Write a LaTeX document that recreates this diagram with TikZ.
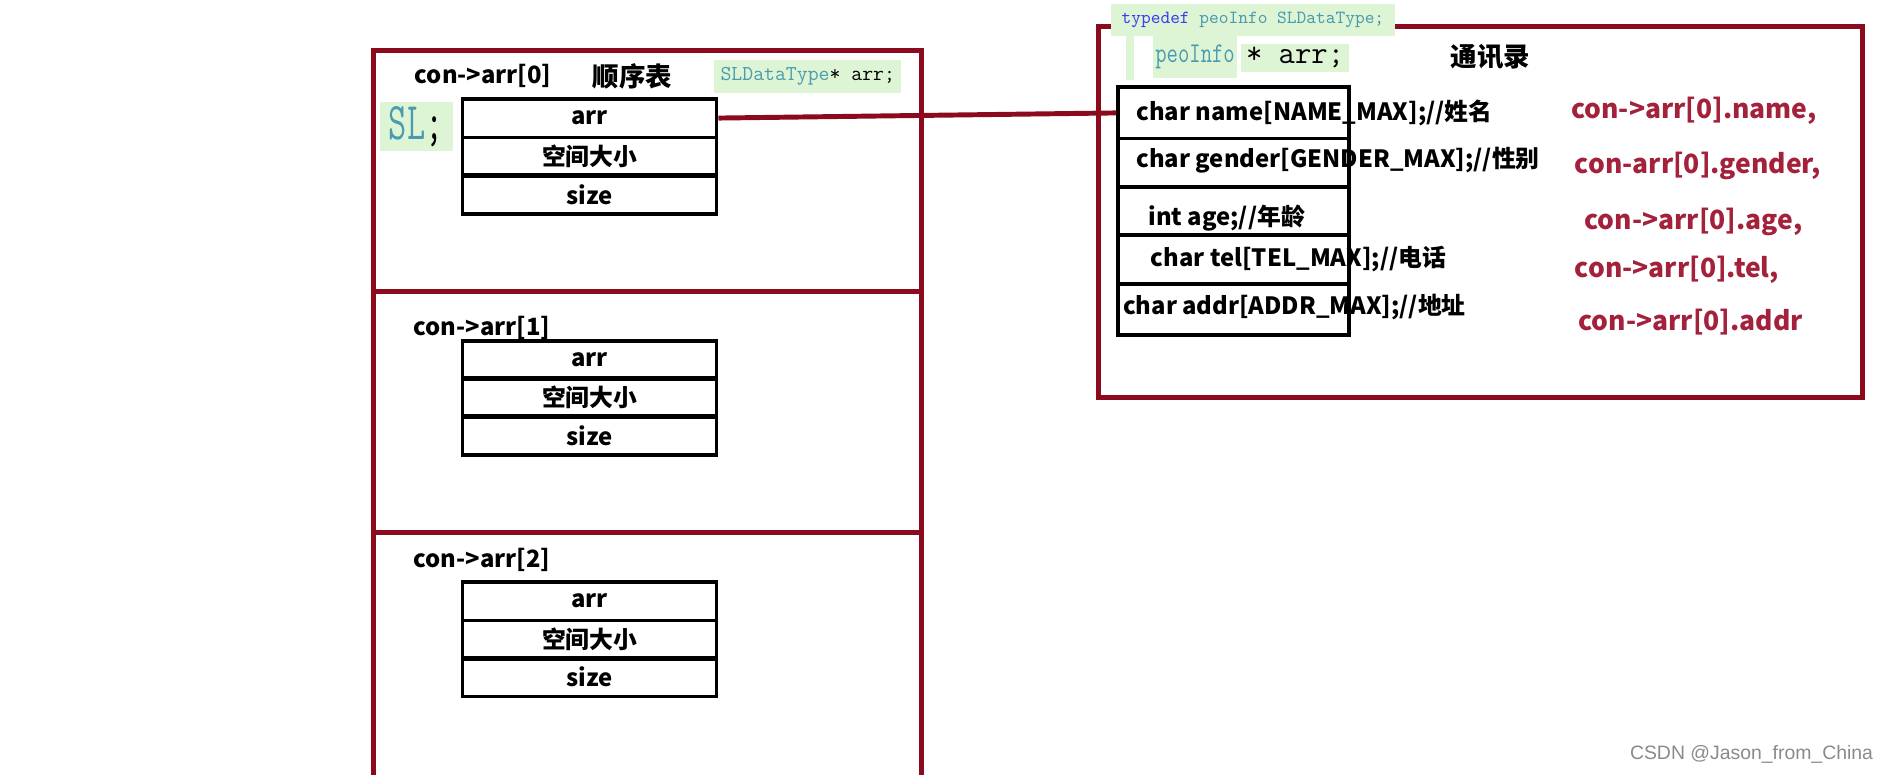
\documentclass[tikz,border=0pt]{standalone}
\usepackage{fontspec}
\setmainfont{Noto Sans CJK SC}
\newfontfamily\wmfont{Liberation Sans}
\usetikzlibrary{calc}
\definecolor{slMarco}{HTML}{8B0A1E}
\definecolor{slRojo}{HTML}{A3213B}
\definecolor{slVerde}{HTML}{DDF4D5}
\definecolor{slTeal}{HTML}{4A9BAE}
\definecolor{slAzul}{HTML}{3B3BF0}
\definecolor{slGris}{HTML}{8A8A8A}

\begin{document}
\begin{tikzpicture}[x=0.24mm, y=-0.24mm,
      frame/.style={draw=slMarco, line width=2.6pt},
      link/.style={draw=slMarco, line width=2.8pt},
      cell/.style={draw, line width=2pt, minimum width=5.06cm, minimum height=0.77cm,
                   inner sep=0pt, font=\fontsize{13.5}{16}\selectfont\bfseries},
      mem/.style={draw, line width=2pt, minimum width=4.6cm, minimum height=#1, inner sep=0pt},
      memtxt/.style={anchor=west, inner sep=0pt, font=\fontsize{13.5}{16}\selectfont\bfseries},
      ref/.style={anchor=west, inner sep=0pt, text=slRojo, font=\fontsize{15}{18}\selectfont\bfseries},
      hl/.style={fill=slVerde, inner sep=0pt},
      tag/.style={inner sep=0pt, font=\fontsize{13.5}{16}\selectfont\bfseries}]
    \useasboundingbox (0,0) rectangle (1568,643);

    % sequence list, three elements
    \draw[frame] (310,660) -- (310,42) -- (765,42) -- (765,660);
    \draw[frame] (310,242) -- (765,242);
    \draw[frame] (310,442) -- (765,442);

    \node[tag] (t0) at (401,63) {con->arr[0]};
    \node[tag, font=\fontsize{15}{18}\selectfont\bfseries] (seq) at (525,63) {顺序表};
    \node[hl, minimum width=3.72cm, minimum height=0.65cm,
          font=\ttfamily\fontsize{12}{14}\selectfont] (sltype) at (670.5,63.5)
          {\textcolor{slTeal}{SLDataType}* arr;};
    \node[hl, minimum width=1.46cm, minimum height=0.96cm,
          font=\ttfamily\fontsize{20}{24}\selectfont] (sl) at (345.5,105)
          {\scalebox{1}[1.5]{\textcolor{slTeal}{SL};}};

    \node[cell] (a0) at (489.5,98)    {arr};
    \node[cell] (s0) at (489.5,130)   {空间大小};
    \node[cell] (z0) at (489.5,161.5) {size};

    \node[tag] (t1) at (400,272) {con->arr[1]};
    \node[cell] (a1) at (489.5,299)   {arr};
    \node[cell] (s1) at (489.5,330)   {空间大小};
    \node[cell] (z1) at (489.5,361.5) {size};

    \node[tag] (t2) at (400,465) {con->arr[2]};
    \node[cell] (a2) at (489.5,499)   {arr};
    \node[cell] (s2) at (489.5,531)   {空间大小};
    \node[cell] (z2) at (489.5,562)   {size};

    % contact book
    \draw[frame] (912,22) rectangle (1546,330);
    \node[hl, minimum width=5.66cm, minimum height=0.65cm,
          font=\ttfamily\fontsize{10.5}{12}\selectfont] (tdef) at (1040,16.5)
          {\textcolor{slAzul}{typedef} \textcolor{slTeal}{peoInfo SLDataType;}};
    \fill[slVerde] (935,30) rectangle (941,66);
    \node[hl, minimum width=1.68cm, minimum height=0.84cm, text=slTeal,
          font=\ttfamily\fontsize{12.5}{14}\selectfont] (pinfo) at (992,47) {\scalebox{1}[1.3]{peoInfo}};
    \node[hl, minimum width=2.16cm, minimum height=0.55cm,
          font=\ttfamily\fontsize{18}{20}\selectfont] (parr) at (1075,48) {* arr;};
    \node[tag, font=\fontsize{15}{18}\selectfont\bfseries] (txl) at (1237,47) {通讯录};

    \node[mem=1.03cm] (mname) at (1024,93.5) {};
    \node[mem=0.96cm] (mgen)  at (1024,135)  {};
    \node[mem=0.96cm] (mage)  at (1024,175)  {};
    \node[mem=0.98cm] (mtel)  at (1024,215.5) {};
    \node[mem=1.01cm] (maddr) at (1024,257)  {};

    \node[memtxt] (tname) at (943,94)  {char name[NAME\_MAX];//姓名};
    \node[memtxt] (tgen)  at (943,133) {char gender[GENDER\_MAX];//性别};
    \node[memtxt] (tage)  at (953,181) {int age;//年龄};
    \node[memtxt] (ttel)  at (955,215) {char tel[TEL\_MAX];//电话};
    \node[memtxt] (taddr) at (932,255) {char addr[ADDR\_MAX];//地址};

    \node[ref] (rname) at (1304,92)  {con->arr[0].name,};
    \node[ref] (rgen)  at (1307,138) {con-arr[0].gender,};
    \node[ref] (rage)  at (1315,184) {con->arr[0].age,};
    \node[ref] (rtel)  at (1307,224) {con->arr[0].tel,};
    \node[ref] (raddr) at (1310,267) {con->arr[0].addr};

    \draw[link] (a0.east) -- ($(mname.west)+(-0.05,0.23)$);

    \node[anchor=east, inner sep=0pt, text=slGris, font=\wmfont\fontsize{11}{13}\selectfont]
          (wm) at (1555,626) {CSDN @Jason\_from\_China};
  \end{tikzpicture}
\end{document}
